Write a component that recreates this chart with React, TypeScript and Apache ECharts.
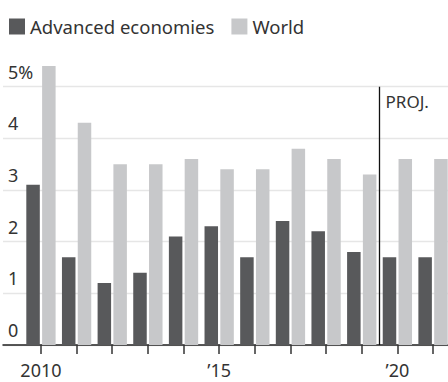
import React, { useEffect, useRef } from "react";
import * as echarts from "echarts";

const years = [2010, 2011, 2012, 2013, 2014, 2015, 2016, 2017, 2018, 2019, 2020, 2021];
const advanced = [3.1, 1.7, 1.2, 1.4, 2.1, 2.3, 1.7, 2.4, 2.2, 1.8, 1.7, 1.7];
const world = [5.4, 4.3, 3.5, 3.5, 3.6, 3.4, 3.4, 3.8, 3.6, 3.3, 3.6, 3.6];
const labelYears = [2010, 2015, 2020];
const labelTexts = ["2010", "\u201915", "\u201920"];
const yTicks = [0, 1, 2, 3, 4, 5];
const projectionAt = 2019.5;

const FONT = "'Noto Sans', sans-serif";

export default function App() {
  const ref = useRef<HTMLDivElement>(null);
  useEffect(() => {
    if (!ref.current) return;
    const chart = echarts.init(ref.current, undefined, { renderer: "svg" });
    chart.setOption({
      animation: false,
      textStyle: { fontFamily: FONT },
      legend: {
        left: 4,
        top: 12,
        icon: "rect",
        itemWidth: 16,
        itemHeight: 16,
        itemGap: 17,
        textStyle: { fontSize: 18.5, color: "#333", fontFamily: FONT },
        data: ["Advanced economies", "World"],
      },
      grid: { left: 3, right: 0, top: 86.7, bottom: 37 },
      xAxis: {
        type: "value",
        min: 2008.935,
        max: 2021.42,
        axisLine: { show: true, lineStyle: { color: "#222", width: 1.5 } },
        axisTick: {
          show: true,
          customValues: years,
          length: 9,
          lineStyle: { color: "#333", width: 1.5 },
        },
        axisLabel: {
          customValues: labelYears,
          formatter: (v: number) => labelTexts[labelYears.indexOf(v)] ?? "",
          fontSize: 18,
          color: "#333",
          margin: 16,
          fontFamily: FONT,
        },
        splitLine: { show: false },
      },
      yAxis: {
        type: "value",
        min: yTicks[0],
        max: yTicks[yTicks.length - 1],
        interval: 1,
        axisLine: { show: false },
        axisTick: { show: false },
        axisLabel: {
          inside: true,
          margin: 5,
          fontSize: 18,
          color: "#333",
          verticalAlign: "bottom",
          padding: [0, 0, 6, 0],
          fontFamily: FONT,
          formatter: (v: number) => (v === 5 ? "5%" : String(v)),
        },
        splitLine: { show: true, lineStyle: { color: "#e6e6e6", width: 1.3 } },
      },
      series: [
        {
          name: "Advanced economies",
          type: "bar",
          data: years.map((y, i) => [y, advanced[i]]),
          barWidth: 13.5,
          barGap: "17%",
          clip: false,
          itemStyle: { color: "#58595b" },
        },
        {
          name: "World",
          type: "bar",
          data: years.map((y, i) => [y, world[i]]),
          barWidth: 13.5,
          barGap: "17%",
          clip: false,
          itemStyle: { color: "#c7c8ca" },
        },
        {
          name: "projection",
          type: "line",
          data: [],
          silent: true,
          markLine: {
            silent: true,
            symbol: "none",
            lineStyle: { color: "#111", width: 1.3, type: "solid" },
            label: {
              show: true,
              position: "end",
              distance: 0,
              align: "left",
              verticalAlign: "top",
              padding: [6, 0, 0, 6],
              fontSize: 17,
              color: "#333",
              fontFamily: FONT,
              formatter: "PROJ.",
            },
            data: [[{ coord: [projectionAt, 0] }, { coord: [projectionAt, 5] }]],
          },
        },
      ],
    });
    return () => chart.dispose();
  }, []);
  return (
    <div
      ref={ref}
      style={{ position: "absolute", left: 0, top: 0, width: 448, height: 382 }}
    />
  );
}
